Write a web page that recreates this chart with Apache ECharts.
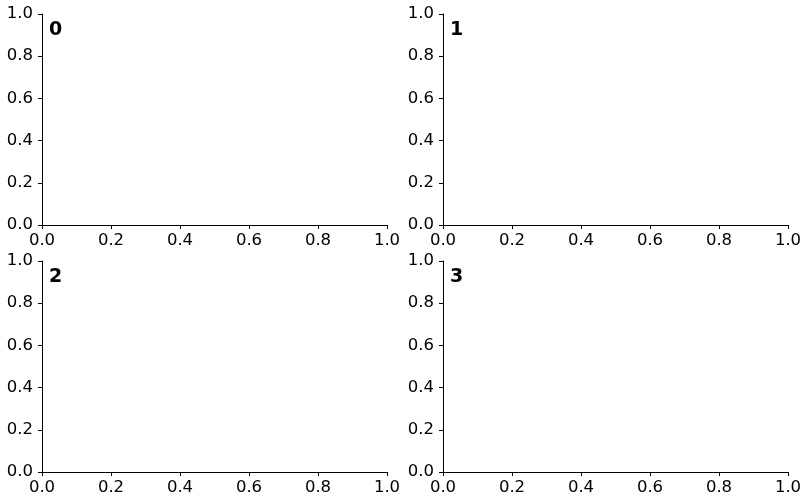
<!DOCTYPE html>
<html><head><meta charset="utf-8">
<script src="https://cdn.jsdelivr.net/npm/echarts@6/dist/echarts.min.js"></script>
<style>html,body{margin:0;padding:0;background:#fff}#c{width:809px;height:503px}</style>
</head><body><div id="c"></div>
<script>
var panelLabels = ['0', '1', '2', '3'];
var axisMin = 0, axisMax = 1, axisStep = 0.2;
var panelData = [[], [], [], []];

var grids = [
  {left: 42, top: 14, width: 345, height: 211},
  {left: 443, top: 14, width: 345, height: 211},
  {left: 42, top: 261, width: 345, height: 211},
  {left: 443, top: 261, width: 345, height: 211}
];
var font = 'DejaVu Sans';
function axisCommon(idx, isX) {
  return {
    type: 'value', gridIndex: idx, min: axisMin, max: axisMax, interval: axisStep,
    axisLine: {show: true, lineStyle: {color: '#000', width: 1}},
    axisTick: {show: true, length: 4, lineStyle: {color: '#000', width: 1}},
    splitLine: {show: false},
    axisLabel: {show: true, color: '#000', fontFamily: font, fontSize: 16.5, margin: isX ? 7 : 9,
      formatter: function (v) { return v.toFixed(1); },
      showMinLabel: true, showMaxLabel: true}
  };
}
var xAxes = [], yAxes = [], series = [], titles = [];
for (var i = 0; i < 4; i++) {
  xAxes.push(axisCommon(i, true));
  yAxes.push(axisCommon(i, false));
  series.push({type: 'line', xAxisIndex: i, yAxisIndex: i, data: panelData[i], silent: true});
  titles.push({text: panelLabels[i], left: grids[i].left + 7, top: grids[i].top + 7, padding: 0,
    textStyle: {fontFamily: font, fontWeight: 'bold', fontSize: 19, color: '#000'}});
}
var chart = echarts.init(document.getElementById('c'), null, {renderer: 'canvas'});
chart.setOption({
  animation: false,
  backgroundColor: '#fff',
  title: titles,
  grid: grids,
  xAxis: xAxes,
  yAxis: yAxes,
  series: series
});
</script></body></html>
